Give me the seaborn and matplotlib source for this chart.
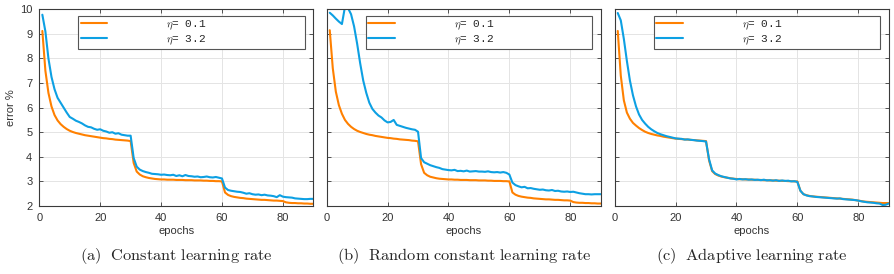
import matplotlib
matplotlib.use("Agg")
import matplotlib.pyplot as plt
import seaborn as sns
import pandas as pd

# epochs 1..90
epochs = list(range(1, 91))

# (a) constant learning rate
a_eta01 = [9.12, 7.50, 6.60, 6.05, 5.70, 5.48, 5.33, 5.22, 5.13, 5.06,
           5.01, 4.97, 4.94, 4.91, 4.88, 4.86, 4.84, 4.82, 4.80, 4.78,
           4.76, 4.75, 4.73, 4.72, 4.70, 4.69, 4.68, 4.67, 4.66, 4.64,
           3.75, 3.40, 3.28, 3.21, 3.17, 3.14, 3.12, 3.10, 3.09, 3.08,
           3.08, 3.07, 3.07, 3.07, 3.06, 3.06, 3.06, 3.05, 3.05, 3.05,
           3.04, 3.04, 3.04, 3.03, 3.03, 3.02, 3.02, 3.01, 3.01, 3.00,
           2.55, 2.45, 2.40, 2.37, 2.35, 2.33, 2.32, 2.30, 2.29, 2.28,
           2.27, 2.26, 2.25, 2.25, 2.24, 2.23, 2.22, 2.22, 2.21, 2.20,
           2.15, 2.13, 2.12, 2.12, 2.11, 2.11, 2.10, 2.10, 2.09, 2.09]
a_eta32 = [9.78, 9.10, 8.00, 7.25, 6.75, 6.40, 6.20, 6.00, 5.80, 5.62,
           5.55, 5.47, 5.42, 5.36, 5.28, 5.22, 5.20, 5.14, 5.10, 5.12,
           5.06, 5.03, 4.98, 5.00, 4.94, 4.96, 4.90, 4.88, 4.86, 4.86,
           3.95, 3.60, 3.48, 3.42, 3.38, 3.35, 3.31, 3.30, 3.29, 3.27,
           3.28, 3.26, 3.25, 3.27, 3.22, 3.25, 3.21, 3.26, 3.22, 3.21,
           3.19, 3.20, 3.17, 3.18, 3.20, 3.17, 3.16, 3.18, 3.15, 3.12,
           2.75, 2.65, 2.62, 2.60, 2.58, 2.57, 2.54, 2.50, 2.52, 2.48,
           2.46, 2.47, 2.44, 2.46, 2.43, 2.42, 2.40, 2.36, 2.44, 2.38,
           2.36, 2.35, 2.34, 2.31, 2.30, 2.29, 2.28, 2.28, 2.29, 2.29]

# (b) random constant learning rate
b_eta01 = [9.15, 7.60, 6.65, 6.10, 5.75, 5.50, 5.34, 5.22, 5.13, 5.06,
           5.01, 4.97, 4.93, 4.90, 4.88, 4.85, 4.83, 4.81, 4.79, 4.77,
           4.76, 4.74, 4.73, 4.71, 4.70, 4.69, 4.68, 4.66, 4.65, 4.63,
           3.70, 3.35, 3.25, 3.19, 3.16, 3.13, 3.11, 3.10, 3.09, 3.08,
           3.08, 3.07, 3.07, 3.06, 3.06, 3.06, 3.05, 3.05, 3.05, 3.04,
           3.04, 3.04, 3.03, 3.03, 3.02, 3.02, 3.02, 3.01, 3.01, 3.00,
           2.55, 2.46, 2.41, 2.38, 2.36, 2.34, 2.33, 2.31, 2.30, 2.29,
           2.28, 2.27, 2.27, 2.26, 2.25, 2.25, 2.24, 2.23, 2.23, 2.22,
           2.16, 2.14, 2.13, 2.13, 2.12, 2.12, 2.11, 2.11, 2.10, 2.10]
b_eta32 = [9.86, 9.75, 9.62, 9.50, 9.40, 10.10, 10.05, 9.80, 9.30, 8.60,
           7.80, 7.10, 6.60, 6.20, 5.95, 5.80, 5.68, 5.60, 5.48, 5.40,
           5.42, 5.50, 5.30, 5.26, 5.22, 5.18, 5.15, 5.12, 5.10, 5.02,
           3.95, 3.78, 3.72, 3.66, 3.62, 3.58, 3.55, 3.50, 3.48, 3.46,
           3.45, 3.47, 3.42, 3.43, 3.41, 3.44, 3.40, 3.41, 3.42, 3.40,
           3.40, 3.39, 3.41, 3.38, 3.37, 3.38, 3.36, 3.38, 3.35, 3.28,
           2.95, 2.85, 2.80, 2.76, 2.78, 2.72, 2.73, 2.70, 2.68, 2.66,
           2.67, 2.64, 2.63, 2.65, 2.61, 2.62, 2.59, 2.58, 2.59, 2.57,
           2.58, 2.55, 2.52, 2.50, 2.48, 2.48, 2.47, 2.48, 2.48, 2.48]

# (c) adaptive learning rate
c_eta01 = [9.12, 7.30, 6.30, 5.80, 5.55, 5.38, 5.27, 5.17, 5.09, 5.02,
           4.97, 4.93, 4.90, 4.87, 4.85, 4.82, 4.80, 4.78, 4.76, 4.74,
           4.73, 4.72, 4.71, 4.70, 4.69, 4.68, 4.67, 4.66, 4.65, 4.64,
           3.85, 3.42, 3.30, 3.24, 3.20, 3.17, 3.15, 3.13, 3.11, 3.10,
           3.09, 3.09, 3.08, 3.08, 3.07, 3.07, 3.06, 3.06, 3.05, 3.05,
           3.04, 3.04, 3.03, 3.03, 3.02, 3.02, 3.01, 3.01, 3.00, 3.00,
           2.62, 2.48, 2.44, 2.41, 2.39, 2.38, 2.37, 2.36, 2.35, 2.34,
           2.33, 2.32, 2.31, 2.30, 2.29, 2.28, 2.27, 2.26, 2.24, 2.22,
           2.20, 2.18, 2.17, 2.16, 2.15, 2.14, 2.13, 2.12, 2.12, 2.12]
c_eta32 = [9.85, 9.55, 8.80, 7.90, 7.10, 6.50, 6.05, 5.72, 5.50, 5.35,
           5.22, 5.12, 5.04, 4.97, 4.92, 4.88, 4.84, 4.81, 4.78, 4.75,
           4.74, 4.73, 4.70, 4.71, 4.69, 4.68, 4.66, 4.65, 4.64, 4.62,
           3.90, 3.45, 3.32, 3.26, 3.21, 3.18, 3.15, 3.12, 3.11, 3.08,
           3.10, 3.08, 3.09, 3.07, 3.08, 3.06, 3.07, 3.05, 3.07, 3.04,
           3.05, 3.03, 3.05, 3.02, 3.04, 3.02, 3.03, 3.00, 3.01, 2.98,
           2.62, 2.48, 2.43, 2.40, 2.39, 2.37, 2.36, 2.35, 2.34, 2.33,
           2.32, 2.31, 2.30, 2.31, 2.28, 2.27, 2.26, 2.25, 2.24, 2.22,
           2.19, 2.17, 2.15, 2.14, 2.13, 2.11, 2.10, 2.04, 2.05, 2.10]

series_labels = [r"$\eta$= 0.1", r"$\eta$= 3.2"]
captions = [r"$\mathrm{(a)\ \ Constant\ learning\ rate}$",
            r"$\mathrm{(b)\ \ Random\ constant\ learning\ rate}$",
            r"$\mathrm{(c)\ \ Adaptive\ learning\ rate}$"]
panels = [(a_eta01, a_eta32), (b_eta01, b_eta32), (c_eta01, c_eta32)]
x_ticks = [0, 20, 40, 60, 80]
y_ticks = [2, 3, 4, 5, 6, 7, 8, 9, 10]

colors = ["#FF8000", "#0DA0E3"]
axis_color = "#3a3a3a"

sns.set_theme(style="whitegrid")
plt.rcParams["font.family"] = ["Liberation Sans", "DejaVu Sans"]
plt.rcParams["mathtext.fontset"] = "cm"

fig = plt.figure(figsize=(8.94, 2.74), dpi=100)
lefts = [39.3 / 894, 326.7 / 894, 614.7 / 894]
for i, (s01, s32) in enumerate(panels):
    ax = fig.add_axes([lefts[i], 1 - 206 / 274, 274 / 894, (206 - 9.3) / 274])
    df = pd.DataFrame({
        "epoch": epochs * 2,
        "error": s01 + s32,
        "eta": [series_labels[0]] * len(epochs) + [series_labels[1]] * len(epochs),
    })
    sns.lineplot(data=df, x="epoch", y="error", hue="eta", palette=colors,
                 linewidth=1.5, ax=ax, legend=False)
    ax.set_xlim(0, 90)
    ax.set_ylim(2, 10)
    ax.set_xticks(x_ticks)
    ax.set_yticks(y_ticks)
    ax.grid(True, color="#e4e4e4", linewidth=0.7)
    for sp in ax.spines.values():
        sp.set_color(axis_color)
        sp.set_linewidth(0.8)
    ax.tick_params(direction="in", length=3, width=0.6, colors=axis_color,
                   labelsize=8, top=True, right=True, bottom=True, left=True,
                   labelcolor="#333333", pad=5)
    ax.set_xlabel("epochs", fontsize=8, color="#333333", labelpad=2)
    if i == 0:
        ax.set_ylabel("error %", fontsize=8, color="#333333", labelpad=3)
    else:
        ax.set_ylabel("")
        ax.tick_params(labelleft=False)

    handles = [plt.Line2D([], [], color=c, linewidth=1.5) for c in colors]
    leg = ax.legend(handles, series_labels, loc="lower left",
                    bbox_to_anchor=(0.142, 0.798, 0.826, 0.156), mode="expand",
                    borderaxespad=0, fancybox=False, framealpha=1,
                    handlelength=2.4, handletextpad=5.3, labelspacing=0.12,
                    borderpad=0.22,
                    prop={"family": ["Liberation Mono"], "size": 8})
    leg.get_frame().set_edgecolor("#555555")
    leg.get_frame().set_linewidth(0.8)
    for t in leg.get_texts():
        t.set_color("#262626")

    fig.text(lefts[i] + 0.5 * 274 / 894, 1 - 256 / 274, captions[i],
             ha="center", va="center", fontsize=11.8)

fig.savefig("out.png", dpi=100)
